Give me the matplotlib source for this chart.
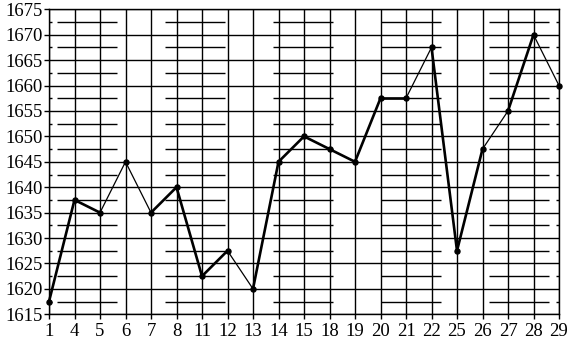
import numpy as np
import matplotlib
matplotlib.use("Agg")
import matplotlib.pyplot as plt
from matplotlib.ticker import MultipleLocator

# days of the month (trading days only) and price
days = [1, 4, 5, 6, 7, 8, 11, 12, 13, 14, 15, 18, 19, 20, 21, 22, 25, 26, 27, 28, 29]
price = [1617.5, 1637.5, 1635, 1645, 1635, 1640, 1622.5, 1627.5, 1620, 1645,
         1650, 1647.5, 1645, 1657.5, 1657.5, 1667.5, 1627.5, 1647.5, 1655, 1670, 1660]
# segment thickness as in the original (1 = bold)
bold = [1, 1, 0, 0, 1, 1, 1, 0, 1, 1, 1, 1, 1, 1, 0, 1, 1, 0, 1, 0]

plt.rcParams['font.family'] = ['Liberation Serif', 'DejaVu Serif']

fig = plt.figure(figsize=(5.71, 3.44), dpi=100)
ax = fig.add_axes([49/571, 1 - 314.3/344, 510/571, 305/344])

pos = np.arange(len(days))
for i in range(len(days) - 1):
    ax.plot(pos[i:i+2], price[i:i+2], color='black',
            lw=1.9 if bold[i] else 0.9, solid_capstyle='round', zorder=3,
            clip_on=False)
ax.plot(pos, price, linestyle='none', marker='o', ms=3.6, color='black',
        zorder=4, clip_on=False)

ax.set_xlim(0, len(days) - 1)
ax.set_ylim(1615, 1675)
ax.set_xticks(pos)
ax.set_xticklabels([str(d) for d in days])
ax.yaxis.set_major_locator(MultipleLocator(5))
ax.yaxis.set_minor_locator(MultipleLocator(2.5))

ax.grid(which='major', color='black', lw=1.0)
ax.grid(which='minor', axis='y', color='black', lw=1.0,
        linestyle=(72, (43.2, 34.56)))
ax.set_axisbelow(True)

ax.tick_params(which='major', direction='out', length=3.5, width=1.0,
               labelsize=13.5, pad=1, color='black')
ax.tick_params(axis='x', which='major', pad=3)
ax.tick_params(axis='y', which='minor', direction='in', length=2.5, width=1.0,
               left=True, right=True)
ax.tick_params(axis='x', which='minor', bottom=False)
for s in ax.spines.values():
    s.set_linewidth(1.0)
    s.set_color('black')

fig.savefig('out.png', dpi=100)
